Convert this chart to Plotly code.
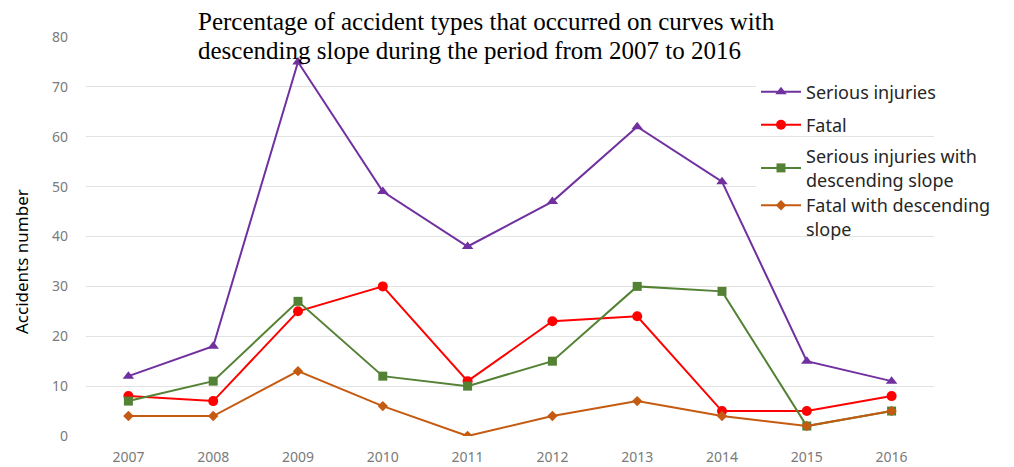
import plotly.graph_objects as go

years = ["2007", "2008", "2009", "2010", "2011", "2012", "2013", "2014", "2015", "2016"]
serious = [12, 18, 75, 49, 38, 47, 62, 51, 15, 11]
fatal = [8, 7, 25, 30, 11, 23, 24, 5, 5, 8]
serious_desc = [7, 11, 27, 12, 10, 15, 30, 29, 2, 5]
fatal_desc = [4, 4, 13, 6, 0, 4, 7, 4, 2, 5]
y_ticks = [0, 10, 20, 30, 40, 50, 60, 70, 80]

series = [
    ("Serious injuries", serious, "#7030A0", "triangle-up", 10, "legend"),
    ("Fatal", fatal, "#FF0000", "circle", 10, "legend2"),
    ("Serious injuries with<br>descending slope", serious_desc, "#548235", "square", 9, "legend3"),
    ("Fatal with descending<br>slope", fatal_desc, "#C55A11", "diamond", 8, "legend4"),
]

fig = go.Figure()
for name, vals, color, sym, sz, leg in series:
    fig.add_trace(go.Scatter(
        x=years, y=vals, name=name, mode="lines+markers",
        line=dict(color=color, width=2),
        marker=dict(symbol=sym, size=sz, color=color),
        legend=leg,
    ))

# plot area in screen pixels: x 86..934, y 37..436 (page body has an 8px margin)
PL, PT, PW, PH = 86, 37, 848, 399


def py(screen_y):
    return (PT + PH - screen_y) / PH


def px(screen_x):
    return (screen_x - PL) / PW


leg_font = dict(family="Noto Sans, sans-serif", size=18, color="#262626")
leg_common = dict(xanchor="left", yanchor="middle",
                  font=leg_font, itemwidth=40, x=px(756))

fig.update_layout(
    width=1006, height=459,
    margin=dict(l=78, r=80, t=29, b=31),
    paper_bgcolor="white", plot_bgcolor="white",
    showlegend=True,
    legend=dict(y=py(92), bgcolor="white", **leg_common),
    legend2=dict(y=py(125), bgcolor="rgba(0,0,0,0)", **leg_common),
    legend3=dict(y=py(168), bgcolor="white", **leg_common),
    legend4=dict(y=py(217), valign="top", bgcolor="rgba(0,0,0,0)", **leg_common),
    xaxis=dict(
        type="category", range=[-0.5, 9.5], automargin=False,
        showgrid=False, showline=False, zeroline=False,
        tickfont=dict(family="Noto Sans, sans-serif", size=14, color="#7A7A7A"),
        ticks="", ticklabelstandoff=11,
    ),
    yaxis=dict(
        range=[0, 80], tickvals=y_ticks, automargin=False,
        showgrid=True, gridcolor="#E3E3E3", gridwidth=1.3,
        zeroline=False, showline=False,
        tickfont=dict(family="Noto Sans, sans-serif", size=14, color="#7A7A7A"),
        ticks="", ticklabelstandoff=17,
    ),
    annotations=[
        dict(
            text="Percentage of accident types that occurred on curves with",
            xref="paper", yref="paper", x=px(196), y=py(22),
            xanchor="left", yanchor="middle", align="left", showarrow=False,
            font=dict(family="Liberation Serif, serif", size=25, color="#000000"),
        ),
        dict(
            text="descending slope during the period from 2007 to 2016",
            xref="paper", yref="paper", x=px(196), y=py(50),
            xanchor="left", yanchor="middle", align="left", showarrow=False,
            font=dict(family="Liberation Serif, serif", size=25, color="#000000"),
        ),
        dict(
            text="Accidents number", xref="paper", yref="paper",
            x=px(21), y=py(262), xanchor="center", yanchor="middle",
            textangle=-90, showarrow=False,
            font=dict(family="Noto Sans, sans-serif", size=17, color="#000000"),
        ),
    ],
)

fig.write_html("out.html")
